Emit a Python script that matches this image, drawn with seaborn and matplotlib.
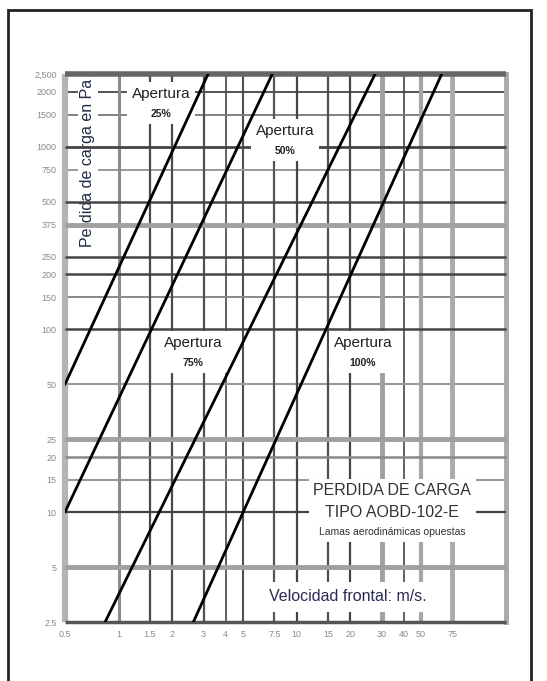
import numpy as np
import pandas as pd
import matplotlib
matplotlib.use("Agg")
import matplotlib.pyplot as plt
import seaborn as sns
from matplotlib.patches import Rectangle
from matplotlib.offsetbox import TextArea, VPacker, AnnotationBbox

# Curvas de pérdida de carga: cada apertura es una recta en escala log-log
apertura = ["25%", "50%", "75%", "100%"]
vel_inicio = [0.5, 0.5, 0.84, 2.63]
perd_inicio = [50, 10, 2.5, 2.5]
vel_fin = [3.18, 7.3, 27.6, 65.3]
perd_fin = [2500, 2500, 2500, 2500]

# Escalas de los ejes
vel_ticks = [0.5, 1, 1.5, 2, 3, 4, 5, 7.5, 10, 15, 20, 30, 40, 50, 75]
vel_labels = ["0.5", "1", "1.5", "2", "3", "4", "5", "7.5", "10", "15", "20",
              "30", "40", "50", "75"]
perd_ticks = [2.5, 5, 10, 15, 20, 25, 50, 100, 150, 200, 250, 375, 500, 750,
              1000, 1500, 2000, 2500]
perd_labels = ["2.5", "5", "10", "15", "20", "25", "50", "100", "150", "200",
               "250", "375", "500", "750", "1000", "1500", "2000", "2,500"]

# Estilo de cada línea de la cuadrícula (color, grosor)
vel_grid_style = [("#b4b4b4", 4.5), ("#8c8c8c", 2.2), ("#4a4a4a", 1.6),
                  ("#4a4a4a", 1.6), ("#505050", 1.6), ("#555555", 1.3),
                  ("#505050", 1.5), ("#555555", 1.6), ("#444444", 1.6),
                  ("#505050", 1.6), ("#444444", 1.6), ("#a0a0a0", 3.5),
                  ("#555555", 1.3), ("#a6a6a6", 3.0), ("#aaaaaa", 3.5)]
perd_grid_style = [("#555555", 2.5), ("#a0a0a0", 3.5), ("#444444", 1.6),
                   ("#999999", 1.5), ("#888888", 1.8), ("#a0a0a0", 3.5),
                   ("#999999", 1.5), ("#444444", 1.8), ("#888888", 1.4),
                   ("#444444", 1.8), ("#444444", 1.8), ("#a0a0a0", 3.5),
                   ("#444444", 1.8), ("#999999", 1.4), ("#444444", 2.0),
                   ("#777777", 1.3), ("#444444", 1.3), ("#666666", 4.0)]

df = pd.DataFrame({
    "apertura": apertura * 2,
    "velocidad": vel_inicio + vel_fin,
    "perdida": perd_inicio + perd_fin,
})

sns.set_theme(style="white")
plt.rcParams["font.family"] = ["Liberation Sans", "DejaVu Sans"]

W, H = 547, 681
fig = plt.figure(figsize=(W / 100, H / 100), dpi=100)
ax = fig.add_axes([65 / W, 59 / H, (506 - 65) / W, 548 / H])
ax.set_xscale("log")
ax.set_yscale("log")
ax.set_xlim(0.5, 150)
ax.set_ylim(2.5, 2500)

# Cuadrícula
for v, (c, lw) in zip(vel_ticks, vel_grid_style):
    ax.axvline(v, color=c, lw=lw, zorder=1 if lw < 1.6 else 3, clip_on=False,
               solid_capstyle="butt")
for p, (c, lw) in zip(perd_ticks, perd_grid_style):
    ax.axhline(p, color=c, lw=lw, zorder=1 if lw < 1.6 else 3, clip_on=False,
               solid_capstyle="butt")

for s in ["left", "bottom", "top"]:
    ax.spines[s].set_visible(False)
ax.spines["right"].set_color("#aaaaaa")
ax.spines["right"].set_linewidth(3.5)

# Rectas de pérdida de carga
sns.lineplot(data=df, x="velocidad", y="perdida", units="apertura",
             estimator=None, color="black", lw=2.0, ax=ax, zorder=6,
             legend=False)

ax.set_xticks(vel_ticks)
ax.set_xticklabels(vel_labels)
ax.set_yticks(perd_ticks)
ax.set_yticklabels(perd_labels)
ax.minorticks_off()
ax.tick_params(axis="both", length=0, labelsize=6.5, labelcolor="#8a8a8a")
ax.tick_params(axis="x", pad=6)
ax.tick_params(axis="y", pad=6)
ax.set_xlabel("")
ax.set_ylabel("")

# Título del eje vertical dentro del gráfico
ax.text(0.673, 813, "Perdida de carga en Pa", rotation=90, ha="center",
        va="center", fontsize=11.5, color="#1f2a44", zorder=2,
        bbox=dict(boxstyle="square,pad=0.15", fc="white", ec="none"))

# Etiquetas de cada apertura
etiquetas = [("25%", 1.73, 1733), ("50%", 8.6, 1087),
             ("75%", 2.62, 75), ("100%", 23.6, 75)]
for pct, v, p in etiquetas:
    caja = VPacker(children=[
        TextArea("Apertura", textprops=dict(fontsize=11, color="#222222")),
        TextArea(pct, textprops=dict(fontsize=7.5, color="#222222",
                                     fontweight="bold")),
    ], align="center", pad=0, sep=6)
    ab = AnnotationBbox(caja, (v, p), xycoords="data", frameon=True,
                        pad=0.2, box_alignment=(0.5, 0.5),
                        bboxprops=dict(fc="white", ec="none",
                                       boxstyle="square"))
    ab.set_zorder(4)
    ax.add_artist(ab)

# Bloque de título
titulo = VPacker(children=[
    TextArea("PERDIDA DE CARGA", textprops=dict(fontsize=11.5, color="#333333")),
    TextArea("TIPO AOBD-102-E", textprops=dict(fontsize=11.5, color="#333333")),
    TextArea("Lamas aerodinámicas opuestas",
             textprops=dict(fontsize=7.5, color="#333333")),
], align="center", pad=0, sep=5)
ab = AnnotationBbox(titulo, (34.4, 10.25), xycoords="data", frameon=True,
                    pad=0.3, box_alignment=(0.5, 0.5),
                    bboxprops=dict(fc="white", ec="none", boxstyle="square"))
ab.set_zorder(4)
ax.add_artist(ab)

ax.text(19.5, 3.43, "Velocidad frontal: m/s.", ha="center", va="center",
        fontsize=11.5, color="#2a2a55", zorder=4,
        bbox=dict(boxstyle="square,pad=0.45", fc="white", ec="none"))

# Marco exterior de la ficha
fig.patches.append(Rectangle((8 / W, -0.05), (531 - 8) / W, (H - 10) / H + 0.05,
                             transform=fig.transFigure, fill=False, lw=2,
                             ec="#222222"))

fig.savefig("out.png", dpi=100, facecolor="white")
